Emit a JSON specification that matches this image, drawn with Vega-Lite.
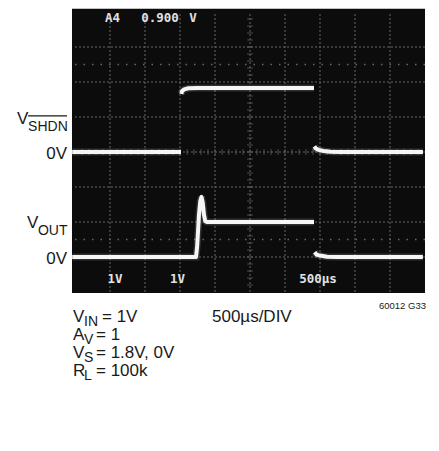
{
  "$schema": "https://vega.github.io/schema/vega-lite/v6.json",
  "width": 350,
  "height": 280,
  "autosize": "none",
  "padding": {"left": 75, "top": 12, "right": 14, "bottom": 159},
  "background": "white",
  "config": {"view": {"stroke": null}},
  "datasets": {
    "gridx": [{"t": 500}, {"t": 1000}, {"t": 1500}, {"t": 2000}, {"t": 2500}, {"t": 3000}, {"t": 3500}, {"t": 4000}, {"t": 4500}],
    "gridy": [{"v": 1}, {"v": 2}, {"v": 3}, {"v": 4}, {"v": 5}, {"v": 6}, {"v": 7}],
    "dotted": [{"v": 1.5}, {"v": 6.5}],
    "hticks": [{"t":100},{"t":200},{"t":300},{"t":400},{"t":500},{"t":600},{"t":700},{"t":800},{"t":900},{"t":1000},{"t":1100},{"t":1200},{"t":1300},{"t":1400},{"t":1500},{"t":1600},{"t":1700},{"t":1800},{"t":1900},{"t":2000},{"t":2100},{"t":2200},{"t":2300},{"t":2400},{"t":2500},{"t":2600},{"t":2700},{"t":2800},{"t":2900},{"t":3000},{"t":3100},{"t":3200},{"t":3300},{"t":3400},{"t":3500},{"t":3600},{"t":3700},{"t":3800},{"t":3900},{"t":4000},{"t":4100},{"t":4200},{"t":4300},{"t":4400},{"t":4500},{"t":4600},{"t":4700},{"t":4800},{"t":4900}],
    "vticks": [{"v":0.2},{"v":0.4},{"v":0.6},{"v":0.8},{"v":1.0},{"v":1.2},{"v":1.4},{"v":1.6},{"v":1.8},{"v":2.0},{"v":2.2},{"v":2.4},{"v":2.6},{"v":2.8},{"v":3.0},{"v":3.2},{"v":3.4},{"v":3.6},{"v":3.8},{"v":4.0},{"v":4.2},{"v":4.4},{"v":4.6},{"v":4.8},{"v":5.0},{"v":5.2},{"v":5.4},{"v":5.6},{"v":5.8},{"v":6.0},{"v":6.2},{"v":6.4},{"v":6.6},{"v":6.8},{"v":7.0},{"v":7.2},{"v":7.4},{"v":7.6},{"v":7.8}],
    "traces": [
      {"seg": "SHDN-a", "i": 0, "t": -40, "v": 4.0},
      {"seg": "SHDN-a", "i": 1, "t": 1514, "v": 4.0},
      {"seg": "SHDN-b", "i": 2, "t": 1520, "v": 5.66},
      {"seg": "SHDN-b", "i": 3, "t": 1530, "v": 5.74},
      {"seg": "SHDN-b", "i": 4, "t": 1560, "v": 5.79},
      {"seg": "SHDN-b", "i": 5, "t": 1620, "v": 5.82},
      {"seg": "SHDN-b", "i": 6, "t": 1750, "v": 5.83},
      {"seg": "SHDN-b", "i": 7, "t": 3414, "v": 5.83},
      {"seg": "SHDN-c", "i": 8, "t": 3420, "v": 4.16},
      {"seg": "SHDN-c", "i": 9, "t": 3440, "v": 4.1},
      {"seg": "SHDN-c", "i": 10, "t": 3480, "v": 4.06},
      {"seg": "SHDN-c", "i": 11, "t": 3550, "v": 4.03},
      {"seg": "SHDN-c", "i": 12, "t": 3650, "v": 4.01},
      {"seg": "SHDN-c", "i": 13, "t": 3800, "v": 4.0},
      {"seg": "SHDN-c", "i": 14, "t": 4970, "v": 4.0},
      {"seg": "OUT-a", "i": 0, "t": -40, "v": 1.0},
      {"seg": "OUT-a", "i": 1, "t": 1729, "v": 1.0},
      {"seg": "OUT-a", "i": 2, "t": 1745, "v": 1.3},
      {"seg": "OUT-a", "i": 3, "t": 1771, "v": 2.2},
      {"seg": "OUT-a", "i": 4, "t": 1790, "v": 2.6},
      {"seg": "OUT-a", "i": 5, "t": 1807, "v": 2.72},
      {"seg": "OUT-a", "i": 6, "t": 1825, "v": 2.55},
      {"seg": "OUT-a", "i": 7, "t": 1843, "v": 2.2},
      {"seg": "OUT-a", "i": 8, "t": 1860, "v": 2.03},
      {"seg": "OUT-a", "i": 9, "t": 1885, "v": 2.0},
      {"seg": "OUT-a", "i": 10, "t": 3414, "v": 2.0},
      {"seg": "OUT-b", "i": 11, "t": 3425, "v": 1.14},
      {"seg": "OUT-b", "i": 12, "t": 3450, "v": 1.07},
      {"seg": "OUT-b", "i": 13, "t": 3500, "v": 1.04},
      {"seg": "OUT-b", "i": 14, "t": 3600, "v": 1.01},
      {"seg": "OUT-b", "i": 15, "t": 3750, "v": 1.0},
      {"seg": "OUT-b", "i": 16, "t": 4970, "v": 1.0}
    ],
    "texts": [
      {"kind": "scope", "label": "A4", "t": 536, "v": 7.83},
      {"kind": "scope", "label": "0.900", "t": 1214, "v": 7.83},
      {"kind": "scope", "label": "V", "t": 1686, "v": 7.83},
      {"kind": "scope", "label": "1V", "t": 571, "v": 0.371},
      {"kind": "scope", "label": "1V", "t": 1464, "v": 0.371},
      {"kind": "scope", "label": "500µs", "t": 3471, "v": 0.371},
      {"kind": "main_r", "label": "0V", "t": -114, "v": 3.814},
      {"kind": "main_r", "label": "0V", "t": -114, "v": 0.814},
      {"kind": "main_l", "label": "V", "t": -828, "v": 4.8},
      {"kind": "main_l", "label": "V", "t": -685, "v": 1.829},
      {"kind": "main_l", "label": "V", "t": -28.6, "v": -0.857},
      {"kind": "main_l", "label": "= 1V", "t": 385.7, "v": -0.857},
      {"kind": "main_l", "label": "A", "t": -28.6, "v": -1.371},
      {"kind": "main_l", "label": "= 1", "t": 300, "v": -1.371},
      {"kind": "main_l", "label": "V", "t": -28.6, "v": -1.886},
      {"kind": "main_l", "label": "= 1.8V, 0V", "t": 300, "v": -1.886},
      {"kind": "main_l", "label": "R", "t": -28.6, "v": -2.4},
      {"kind": "main_l", "label": "= 100k", "t": 300, "v": -2.4},
      {"kind": "main_l", "label": "500µs/DIV", "t": 1957, "v": -0.857},
      {"kind": "sub", "label": "SHDN", "t": -670, "v": 4.6},
      {"kind": "sub", "label": "OUT", "t": -530, "v": 1.629},
      {"kind": "sub", "label": "IN", "t": 128.6, "v": -0.971},
      {"kind": "sub", "label": "V", "t": 128.6, "v": -1.486},
      {"kind": "sub", "label": "S", "t": 128.6, "v": -2.0},
      {"kind": "sub", "label": "L", "t": 128.6, "v": -2.514},
      {"kind": "note", "label": "60012 G33", "t": 5014, "v": -0.486}
    ],
    "overline": [{"t0": -670, "t1": -114, "v": 5.03}],
    "screen": [{"t0": -43, "t1": 5000, "v0": -0.03, "v1": 8.09}]
  },
  "layer": [
    {
      "data": {"name": "screen"},
      "mark": {"type": "rect", "color": "#0c0c0c"},
      "encoding": {
        "x": {"field": "t0", "type": "quantitative", "scale": {"domain": [0, 5000], "nice": false, "zero": false}, "axis": null},
        "x2": {"field": "t1"},
        "y": {"field": "v0", "type": "quantitative", "scale": {"domain": [0, 8], "nice": false, "zero": false}, "axis": null},
        "y2": {"field": "v1"}
      }
    },
    {
      "data": {"name": "gridx"},
      "mark": {"type": "rule", "color": "#676767", "strokeWidth": 1, "strokeDash": [2, 2]},
      "encoding": {
        "x": {"field": "t", "type": "quantitative"},
        "y": {"datum": 0, "type": "quantitative"},
        "y2": {"datum": 8}
      }
    },
    {
      "data": {"name": "gridy"},
      "mark": {"type": "rule", "color": "#676767", "strokeWidth": 1, "strokeDash": [2, 2]},
      "encoding": {
        "y": {"field": "v", "type": "quantitative"},
        "x": {"datum": 0, "type": "quantitative"},
        "x2": {"datum": 5000}
      }
    },
    {
      "data": {"name": "dotted"},
      "mark": {"type": "rule", "color": "#676767", "strokeWidth": 1.5, "strokeDash": [1.5, 7]},
      "encoding": {
        "y": {"field": "v", "type": "quantitative"},
        "x": {"datum": 0, "type": "quantitative"},
        "x2": {"datum": 5000}
      }
    },
    {
      "data": {"name": "hticks"},
      "mark": {"type": "tick", "orient": "vertical", "color": "#676767", "size": 6, "thickness": 1},
      "encoding": {
        "x": {"field": "t", "type": "quantitative"},
        "y": {"datum": 4, "type": "quantitative"}
      }
    },
    {
      "data": {"name": "vticks"},
      "mark": {"type": "tick", "orient": "horizontal", "color": "#676767", "size": 6, "thickness": 1},
      "encoding": {
        "y": {"field": "v", "type": "quantitative"},
        "x": {"datum": 2500, "type": "quantitative"}
      }
    },
    {
      "data": {"name": "traces"},
      "mark": {"type": "line", "color": "#ffffff", "strokeWidth": 7, "opacity": 0.15, "strokeCap": "butt"},
      "encoding": {
        "x": {"field": "t", "type": "quantitative"},
        "y": {"field": "v", "type": "quantitative"},
        "detail": {"field": "seg"},
        "order": {"field": "i"}
      }
    },
    {
      "data": {"name": "traces"},
      "mark": {"type": "line", "color": "#f6f6f6", "strokeWidth": 4, "strokeCap": "butt", "strokeJoin": "round"},
      "encoding": {
        "x": {"field": "t", "type": "quantitative"},
        "y": {"field": "v", "type": "quantitative"},
        "detail": {"field": "seg"},
        "order": {"field": "i"}
      }
    },
    {
      "data": {"name": "texts"},
      "transform": [{"filter": "datum.kind == 'scope'"}],
      "mark": {"type": "text", "font": "DejaVu Sans Mono", "fontWeight": "bold", "fontSize": 12.5, "color": "#e2e2e2", "align": "center", "baseline": "middle"},
      "encoding": {
        "x": {"field": "t", "type": "quantitative"},
        "y": {"field": "v", "type": "quantitative"},
        "text": {"field": "label"}
      }
    },
    {
      "data": {"name": "texts"},
      "transform": [{"filter": "datum.kind == 'main_l'"}],
      "mark": {"type": "text", "font": "Liberation Sans", "fontSize": 17, "color": "#1a1a1a", "align": "left", "baseline": "alphabetic"},
      "encoding": {
        "x": {"field": "t", "type": "quantitative"},
        "y": {"field": "v", "type": "quantitative"},
        "text": {"field": "label"}
      }
    },
    {
      "data": {"name": "texts"},
      "transform": [{"filter": "datum.kind == 'main_r'"}],
      "mark": {"type": "text", "font": "Liberation Sans", "fontSize": 17, "color": "#1a1a1a", "align": "right", "baseline": "alphabetic"},
      "encoding": {
        "x": {"field": "t", "type": "quantitative"},
        "y": {"field": "v", "type": "quantitative"},
        "text": {"field": "label"}
      }
    },
    {
      "data": {"name": "texts"},
      "transform": [{"filter": "datum.kind == 'sub'"}],
      "mark": {"type": "text", "font": "Liberation Sans", "fontSize": 14, "color": "#1a1a1a", "align": "left", "baseline": "alphabetic"},
      "encoding": {
        "x": {"field": "t", "type": "quantitative"},
        "y": {"field": "v", "type": "quantitative"},
        "text": {"field": "label"}
      }
    },
    {
      "data": {"name": "texts"},
      "transform": [{"filter": "datum.kind == 'note'"}],
      "mark": {"type": "text", "font": "Liberation Sans", "fontSize": 9.5, "color": "#1a1a1a", "align": "right", "baseline": "alphabetic"},
      "encoding": {
        "x": {"field": "t", "type": "quantitative"},
        "y": {"field": "v", "type": "quantitative"},
        "text": {"field": "label"}
      }
    },
    {
      "data": {"name": "overline"},
      "mark": {"type": "rule", "color": "#1a1a1a", "strokeWidth": 1.2},
      "encoding": {
        "x": {"field": "t0", "type": "quantitative"},
        "x2": {"field": "t1"},
        "y": {"field": "v", "type": "quantitative"}
      }
    }
  ]
}
